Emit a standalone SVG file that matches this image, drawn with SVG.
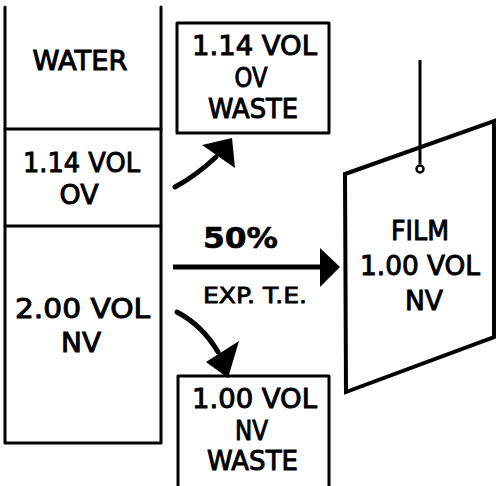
<svg xmlns="http://www.w3.org/2000/svg" width="496" height="486" viewBox="0 0 496 486">
<style>
.ln{fill:none;stroke:#000;stroke-width:3;stroke-linecap:round;stroke-linejoin:round}
.fl{fill:none;stroke:#000;stroke-width:4;stroke-linejoin:miter}
.t{font-family:"DejaVu Sans","Liberation Sans",sans-serif;font-weight:normal;font-size:27px;text-anchor:middle;fill:#000;stroke:#000;stroke-width:1}
.s{font-size:22px;stroke-width:0.8}
.b{font-size:29px;font-weight:bold;stroke-width:0.6}
.sh{fill:none;stroke:#000;stroke-width:5;stroke-linecap:round}
</style>
<rect width="496" height="486" fill="#fff"/>
<g id="tank">
<path class="ln" d="M5,7 V443 H161 V7"/>
<path class="ln" d="M5,129 H161 M5,226 H161"/>
</g>
<g id="water">
<text class="t" x="80" y="70" textLength="95" lengthAdjust="spacingAndGlyphs">WATER</text>
</g>
<g id="ov">
<text class="t" x="81.5" y="172" textLength="117" lengthAdjust="spacingAndGlyphs">1.14 VOL</text>
<text class="t" x="79" y="204" textLength="39" lengthAdjust="spacingAndGlyphs">OV</text>
</g>
<g id="nv">
<text class="t" x="82.5" y="318" textLength="135" lengthAdjust="spacingAndGlyphs">2.00 VOL</text>
<text class="t" x="81" y="352" textLength="40" lengthAdjust="spacingAndGlyphs">NV</text>
</g>
<g id="ov-waste">
<rect class="ln" x="177" y="23" width="152" height="110"/>
<text class="t" x="254.5" y="55" textLength="125" lengthAdjust="spacingAndGlyphs">1.14 VOL</text>
<text class="t" x="251" y="87" textLength="33" lengthAdjust="spacingAndGlyphs">OV</text>
<text class="t" x="253" y="118" textLength="90" lengthAdjust="spacingAndGlyphs">WASTE</text>
</g>
<g id="nv-waste">
<path class="ln" d="M178,492 V376 H329 V492"/>
<text class="t" x="254.5" y="408" textLength="125" lengthAdjust="spacingAndGlyphs">1.00 VOL</text>
<text class="t" x="251.5" y="440" textLength="33" lengthAdjust="spacingAndGlyphs">NV</text>
<text class="t" x="252.5" y="470" textLength="91" lengthAdjust="spacingAndGlyphs">WASTE</text>
</g>
<g id="film">
<path class="fl" d="M345,174 L494,121 V337 L346,392 Z"/>
<path d="M420,60 V164" stroke="#000" stroke-width="3" fill="none"/>
<circle cx="420" cy="169" r="3.5" fill="none" stroke="#000" stroke-width="2.5"/>
<text class="t" x="420" y="240" textLength="58" lengthAdjust="spacingAndGlyphs">FILM</text>
<text class="t" x="420" y="275" textLength="120" lengthAdjust="spacingAndGlyphs">1.00 VOL</text>
<text class="t" x="424" y="310" textLength="38" lengthAdjust="spacingAndGlyphs">NV</text>
</g>
<g id="connectors">
<path class="sh" d="M175,187 Q197,175 216,157"/>
<polygon points="202,145 232,138 235,168"/>
<path class="sh" d="M177,312 Q203,326 218,352"/>
<polygon points="206,362 239,341 228,378"/>
<path d="M173,267 H322" stroke="#000" stroke-width="5" fill="none"/>
<polygon points="320,248 340,267 320,287"/>
<text class="t b" x="240.5" y="248" textLength="75" lengthAdjust="spacingAndGlyphs">50%</text>
<text class="t s" x="255" y="303" textLength="104" lengthAdjust="spacingAndGlyphs">EXP. T.E.</text>
</g>
</svg>
